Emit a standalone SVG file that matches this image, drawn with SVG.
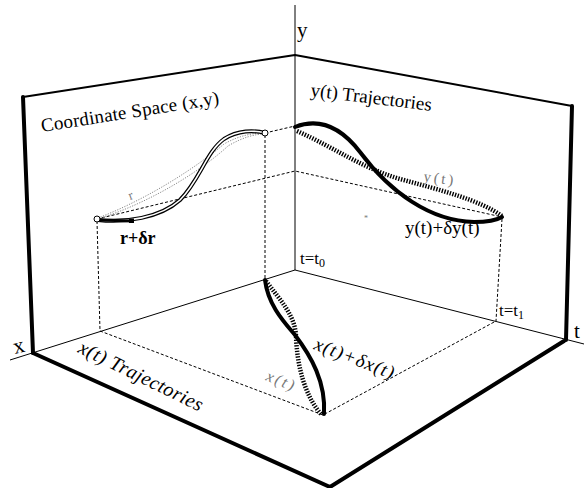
<svg xmlns="http://www.w3.org/2000/svg" width="584" height="488" viewBox="0 0 584 488">
<style>
text { font-family: "Liberation Serif", "Times New Roman", serif; fill: #000; }
.thin { stroke: #000; stroke-width: 1; fill: none; }
.med { stroke: #000; stroke-width: 2; fill: none; stroke-linecap: round; stroke-linejoin: round; }
.thick { stroke: #000; stroke-width: 4; fill: none; stroke-linecap: round; stroke-linejoin: round; }
.dash { stroke: #000; stroke-width: 1; fill: none; stroke-dasharray: 3 2; }
.traj { stroke: #000; stroke-width: 4; fill: none; stroke-linecap: round; }
.dots { stroke: #000; stroke-width: 4.5; fill: none; stroke-dasharray: 1.4 1.4; }
.rdots { stroke: #888; stroke-width: 1; fill: none; stroke-dasharray: 1.2 1.4; }
.gray { fill: #777; }
</style>
<rect width="584" height="488" fill="#fff"/>

<g id="walls">
  <path class="med" d="M23,97 L295,55 L572,106"/>
  <path class="thick" d="M23,97 L33,353"/>
  <path class="thick" d="M572,106 L566,340"/>
  <path class="thick" d="M33,353 L330,487 L564,341"/>
</g>

<g id="axes">
  <line class="thin" x1="295" y1="5" x2="295" y2="270"/>
  <line class="thin" x1="295" y1="270" x2="10" y2="360"/>
  <line class="thin" x1="295" y1="270" x2="584" y2="344"/>
</g>

<g id="connectors">
  <path class="dash" d="M265,133 L295,126"/>
  <path class="dash" d="M97,219 L295,171 L502,217"/>
  <path class="dash" d="M97,221 L100,331"/>
  <path class="dash" d="M265,135 L265,279"/>
  <path class="dash" d="M502,219 L496,321"/>
  <path class="dash" d="M100,331 L323,415 L496,321"/>
</g>

<g id="coordinate-space">
  <path class="rdots" d="M98,218 C150,198 198,166 224,144 C240,135 254,133 264,133"/>
  <path class="rdots" d="M98,219 C152,202 202,170 228,146 C243,137 256,134 264,134"/>
  <path d="M98,220 C125,223 160,218 180,200 C200,180 206,152 224,139 C238,130 254,130 265,133" stroke="#000" stroke-width="4" fill="none"/>
  <path d="M98,220 C125,223 160,218 180,200 C200,180 206,152 224,139 C238,130 254,130 265,133" stroke="#fff" stroke-width="1.6" fill="none"/>
  <path d="M99,220 L132,221" stroke="#000" stroke-width="3" fill="none"/>
  <rect x="129" y="218.5" width="5" height="4.5" fill="#000"/>
  <circle cx="97" cy="219" r="3" fill="#fff" stroke="#000" stroke-width="1"/>
  <circle cx="265" cy="133" r="3" fill="#fff" stroke="#000" stroke-width="1"/>
</g>

<g id="y-trajectories">
  <path class="dots" d="M297,131 C335,148 362,168 400,179 C440,190 480,200 502,216"/>
  <path class="traj" d="M295,127 C318,118 340,126 360,152 C390,192 430,221 474,222 C490,222 497,220 502,217"/>
</g>

<g id="x-trajectories">
  <path class="dots" d="M266,281 C280,300 295,315 296,336 C297,366 305,396 321,414"/>
  <path class="traj" d="M265,280 C268,305 284,322 295,335 C311,356 326,382 324,414"/>
</g>

<g id="labels">
  <text x="297" y="37" font-size="21">y</text>
  <text x="574" y="338" font-size="21">t</text>
  <text transform="translate(15,354) rotate(-14)" font-size="22">x</text>
  <text transform="translate(42,132) rotate(-9)" font-size="19" textLength="180" lengthAdjust="spacing">Coordinate Space (x,y)</text>
  <text transform="translate(310,96) rotate(7)" font-size="19">y(t) Trajectories</text>
  <text transform="translate(130,200) rotate(-20)" font-size="13" class="gray">r</text>
  <text x="120" y="244" font-size="18" font-weight="bold">r+δr</text>
  <text transform="translate(423,181) rotate(8)" font-size="15" class="gray" textLength="30" lengthAdjust="spacing">y(t)</text>
  <text x="405" y="234" font-size="19">y(t)+δy(t)</text>
  <text x="364" y="221" font-size="8" class="gray">*</text>
  <text x="300" y="264" font-size="17">t=t<tspan font-size="12" dy="3">0</tspan></text>
  <text x="499" y="316" font-size="17">t=t<tspan font-size="12" dy="3">1</tspan></text>
  <text transform="translate(77,352) rotate(26)" font-size="20" font-style="italic" textLength="136" lengthAdjust="spacing">x(t) Trajectories</text>
  <text transform="translate(313,349) rotate(21)" font-size="19" font-style="italic" textLength="84" lengthAdjust="spacing">x(t)+δx(t)</text>
  <text transform="translate(265,380) rotate(22)" font-size="16" font-style="italic" class="gray" textLength="29" lengthAdjust="spacing">x(t)</text>
</g>
</svg>
